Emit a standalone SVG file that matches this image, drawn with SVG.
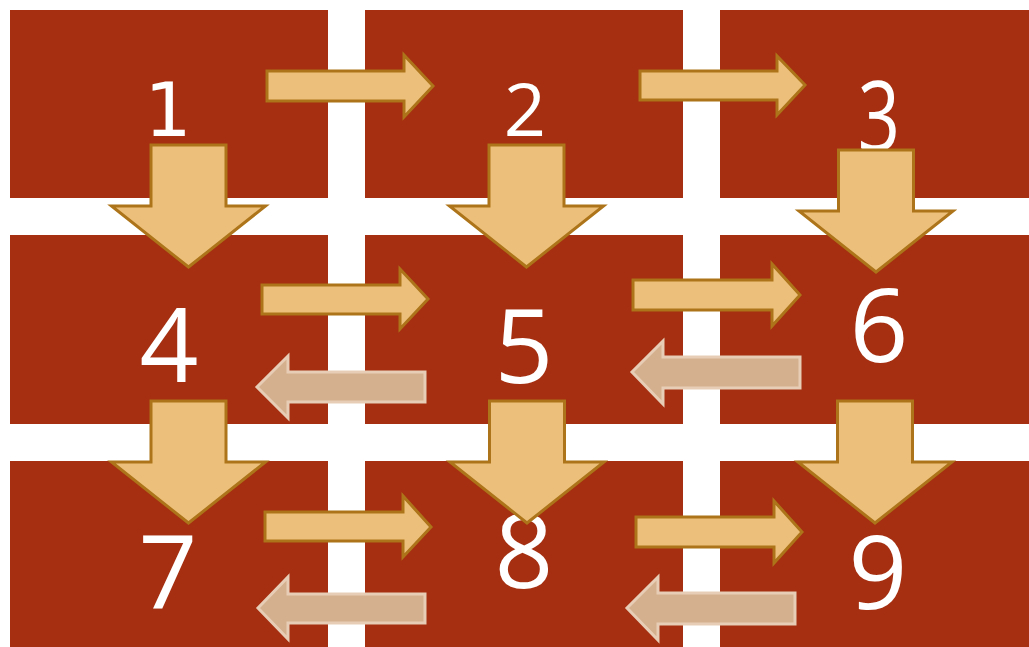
<svg xmlns="http://www.w3.org/2000/svg" width="1029" height="647" viewBox="0 0 1029 647">
<style>
.cell{fill:#A52F10;}
.lbl{fill:#FFFFFF;font-family:"Open Sans","DejaVu Sans",sans-serif;text-anchor:middle;}
.sm{font-size:74px;}
.lg{font-size:103px;}
.fw{fill:#ECC07B;stroke:#AD7419;stroke-width:3;stroke-linejoin:miter;}
.bk{fill:#D4B08E;stroke:#E8CDB6;stroke-width:3;stroke-linejoin:miter;}
</style>
<defs>
<path id="down" d="M -37.5 0 H 37.5 V 61 H 77 L 0 122 L -77 61 H -37.5 Z"/>
</defs>
<rect width="1029" height="647" fill="#FFFFFF"/>
<g id="node1"><rect class="cell" x="10" y="10" width="318" height="188"/><text class="lbl sm" x="168" y="136" style="font-family:'DejaVu Sans',sans-serif">1</text></g>
<g id="node2"><rect class="cell" x="365" y="10" width="318" height="188"/><text class="lbl sm" x="525" y="136">2</text></g>
<g id="node3"><rect class="cell" x="720" y="10" width="309" height="188"/><text class="lbl" font-size="74" transform="translate(879,83) scale(1,1.3)" y="52">3</text></g>
<g id="node4"><rect class="cell" x="10" y="235" width="318" height="189"/><text class="lbl lg" x="169" y="382">4</text></g>
<g id="node5"><rect class="cell" x="365" y="235" width="318" height="189"/><text class="lbl lg" x="524" y="383">5</text></g>
<g id="node6"><rect class="cell" x="720" y="235" width="309" height="189"/><text class="lbl lg" x="879" y="362">6</text></g>
<g id="node7"><rect class="cell" x="10" y="461" width="318" height="186"/><text class="lbl lg" x="168" y="609">7</text></g>
<g id="node8"><rect class="cell" x="365" y="461" width="318" height="186"/><text class="lbl lg" x="524" y="588">8</text></g>
<g id="node9"><rect class="cell" x="720" y="461" width="309" height="186"/><text class="lbl lg" x="878" y="609">9</text></g>
<g id="connectors">
<path class="fw" d="M 267 71 H 404 V 55 L 433 86 L 404 117 V 101 H 267 Z"/>
<path class="fw" d="M 640 71 H 777 V 56 L 805 85 L 777 115 V 100 H 640 Z"/>
<path class="fw" d="M 262 285 H 400 V 269 L 428 299 L 400 329 V 314 H 262 Z"/>
<path class="fw" d="M 633 280 H 772 V 264 L 800 295 L 772 326 V 310 H 633 Z"/>
<path class="fw" d="M 265 512 H 403 V 496 L 431 527 L 403 557 V 541 H 265 Z"/>
<path class="fw" d="M 636 517 H 774 V 501 L 802 532 L 774 563 V 547 H 636 Z"/>
<path class="bk" d="M 425 372 H 288 V 356 L 257 387 L 288 418 V 402 H 425 Z"/>
<path class="bk" d="M 800 357 H 663 V 341 L 632 372 L 663 404 V 388 H 800 Z"/>
<path class="bk" d="M 425 594 H 288 V 577 L 258 608 L 288 639 V 623 H 425 Z"/>
<path class="bk" d="M 795 593 H 658 V 577 L 627 608 L 658 640 V 624 H 795 Z"/>
<use href="#down" class="fw" transform="translate(188.5,145)"/>
<use href="#down" class="fw" transform="translate(526.5,145)"/>
<use href="#down" class="fw" transform="translate(876,150)"/>
<use href="#down" class="fw" transform="translate(188.5,401)"/>
<use href="#down" class="fw" transform="translate(527,401)"/>
<use href="#down" class="fw" transform="translate(875,401)"/>
</g>
</svg>
